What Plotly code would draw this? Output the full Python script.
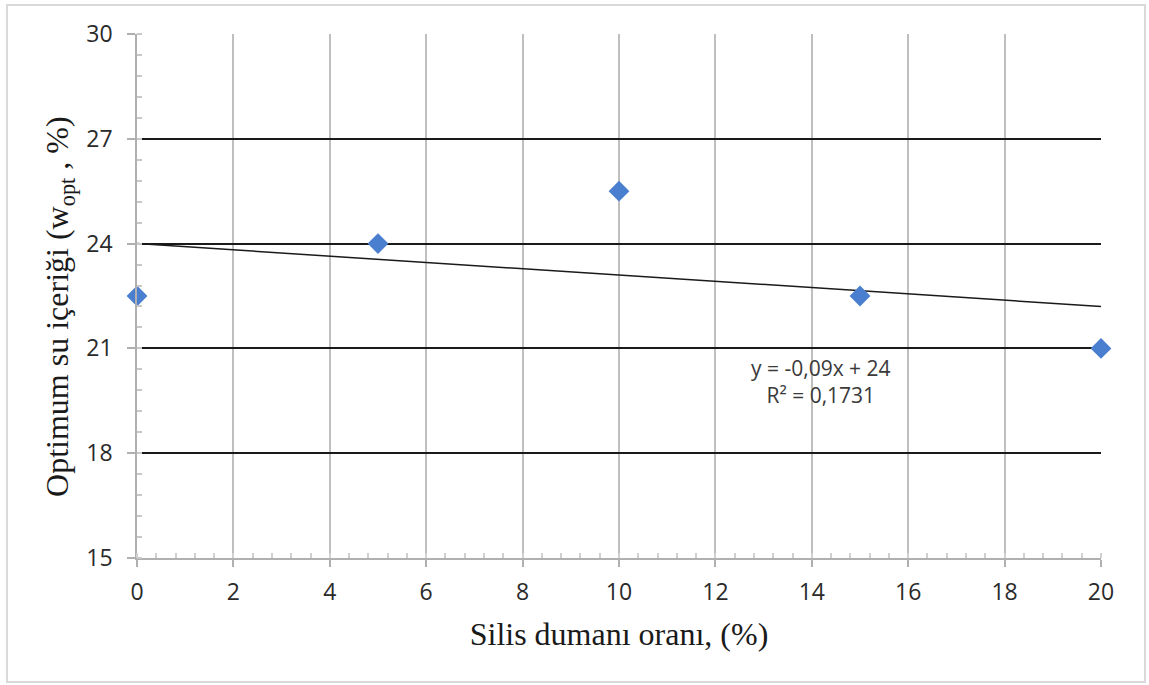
import numpy as np
import plotly.graph_objects as go

# Silica fume ratio (%) vs optimum water content (%)
silis_orani = [0, 5, 10, 15, 20]
w_opt = [22.5, 24.0, 25.5, 22.5, 21.0]

x_ticks = [0, 2, 4, 6, 8, 10, 12, 14, 16, 18, 20]
y_ticks = [15, 18, 21, 24, 27, 30]

# Linear trendline fitted to the points
slope, intercept = np.polyfit(silis_orani, w_opt, 1)
r2 = np.corrcoef(silis_orani, w_opt)[0, 1] ** 2
trend_x = [min(silis_orani), max(silis_orani)]
trend_y = [slope * v + intercept for v in trend_x]

def fmt(v, nd):
    return f"{v:.{nd}f}".replace(".", ",")

eq_text = f"y = {fmt(slope, 2)}x + {intercept:.0f}<br>R\u00b2 = {fmt(r2, 4)}"

fig = go.Figure()
fig.add_trace(go.Scatter(
    x=trend_x, y=trend_y, mode="lines",
    line=dict(color="#1a1a1a", width=1.5),
    showlegend=False, hoverinfo="skip", cliponaxis=False,
))
fig.add_trace(go.Scatter(
    x=silis_orani, y=w_opt, mode="markers",
    marker=dict(symbol="diamond", size=16, color="#4A7FD0",
                line=dict(width=0)),
    showlegend=False, cliponaxis=False,
))

fig.add_annotation(
    x=14.2, y=20.05, xref="x", yref="y", text=eq_text, showarrow=False,
    font=dict(family="Open Sans, Liberation Sans, sans-serif", size=21, color="#3a3a3a"),
    align="center",
)

tick_font = dict(family="Open Sans, Liberation Sans, sans-serif", size=23, color="#2a2a2a")
title_font = dict(family="Liberation Serif, Times New Roman, serif", size=32, color="#1a1a1a")

# Vertical axis title placed beside the tick labels
fig.add_annotation(
    x=-0.0799, y=0.481, xref="paper", yref="paper",
    text="Optimum su içeriği (w<sub>opt</sub> , %)", textangle=-90,
    showarrow=False, xanchor="center", yanchor="middle", font=title_font,
)

# Outer chart border
fig.add_shape(
    type="rect", xref="paper", yref="paper",
    x0=-0.1349, x1=1.0456, y0=-0.2366, y1=1.0553,
    line=dict(color="#d9d9d9", width=2), fillcolor="rgba(0,0,0,0)", layer="below",
)

fig.update_xaxes(
    range=[0, 20], tickvals=x_ticks, ticktext=[str(t) for t in x_ticks],
    showgrid=True, gridcolor="#bfbfbf", gridwidth=1.5,
    showline=True, linecolor="#b0b0b0", linewidth=1.5,
    ticks="outside", ticklen=7, tickcolor="#b0b0b0", tickwidth=1.5,
    ticklabelstandoff=6,
    minor=dict(dtick=0.4, ticks="inside", ticklen=5, tickcolor="#d0d0d0", showgrid=False),
    tickfont=tick_font, zeroline=False,
    title=dict(text="Silis dumanı oranı, (%)", font=title_font, standoff=16),
)
fig.update_yaxes(
    range=[15, 30], tickvals=y_ticks, ticktext=[str(t) for t in y_ticks],
    showgrid=True, gridcolor="#1a1a1a", gridwidth=1.8,
    showline=True, linecolor="#b0b0b0", linewidth=1.5,
    ticks="outside", ticklen=8, tickcolor="#b0b0b0", tickwidth=1.5,
    ticklabelstandoff=10,
    minor=dict(dtick=0.6, ticks="inside", ticklen=5, tickcolor="#c8c8c8", showgrid=False),
    tickfont=tick_font, zeroline=False,
)

fig.update_layout(
    width=1149, height=685,
    margin=dict(l=137, r=48, t=34, b=127),
    paper_bgcolor="white", plot_bgcolor="white",
)

fig.write_html("out.html")
